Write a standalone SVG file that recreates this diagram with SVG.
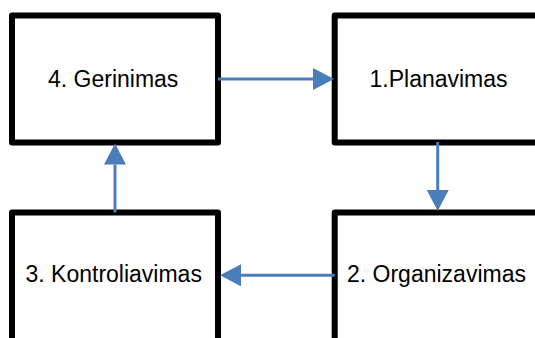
<svg xmlns="http://www.w3.org/2000/svg" width="535" height="338" viewBox="0 0 535 338">
  <style>
    .box { fill: #ffffff; stroke: #000000; stroke-width: 6; stroke-linejoin: round; }
    .lbl { font-family: "Liberation Sans", Arial, sans-serif; font-size: 23px; fill: #000000; }
    .link { fill: none; stroke: #4A7EBB; stroke-width: 3; }
  </style>
  <defs>
    <marker id="head" markerUnits="userSpaceOnUse" markerWidth="21" markerHeight="22" viewBox="0 0 21 22" refX="0" refY="11" orient="auto">
      <path d="M0,0 L21,11 L0,22 z" fill="#4A7EBB"/>
    </marker>
  </defs>
  <rect width="535" height="338" fill="#ffffff"/>

  <g id="gerinimas">
    <rect class="box" x="12" y="15.5" width="206" height="127"/>
    <text class="lbl" x="48" y="86.5">4. Gerinimas</text>
  </g>
  <g id="planavimas">
    <rect class="box" x="334.7" y="15.5" width="230" height="127"/>
    <text class="lbl" x="369.5" y="86.5">1.Planavimas</text>
  </g>
  <g id="organizavimas">
    <rect class="box" x="334.7" y="212.5" width="230" height="140"/>
    <text class="lbl" x="347" y="281.5">2. Organizavimas</text>
  </g>
  <g id="kontroliavimas">
    <rect class="box" x="12" y="212.5" width="206" height="140"/>
    <text class="lbl" x="25.5" y="281.5">3. Kontroliavimas</text>
  </g>

  <g id="connectors">
    <line class="link" x1="218" y1="79" x2="313" y2="79" marker-end="url(#head)"/>
    <line class="link" x1="437.7" y1="142" x2="437.7" y2="190" marker-end="url(#head)"/>
    <line class="link" x1="334.7" y1="275.3" x2="241" y2="275.3" marker-end="url(#head)"/>
    <line class="link" x1="115" y1="212.5" x2="115" y2="164.5" marker-end="url(#head)"/>
  </g>
</svg>
